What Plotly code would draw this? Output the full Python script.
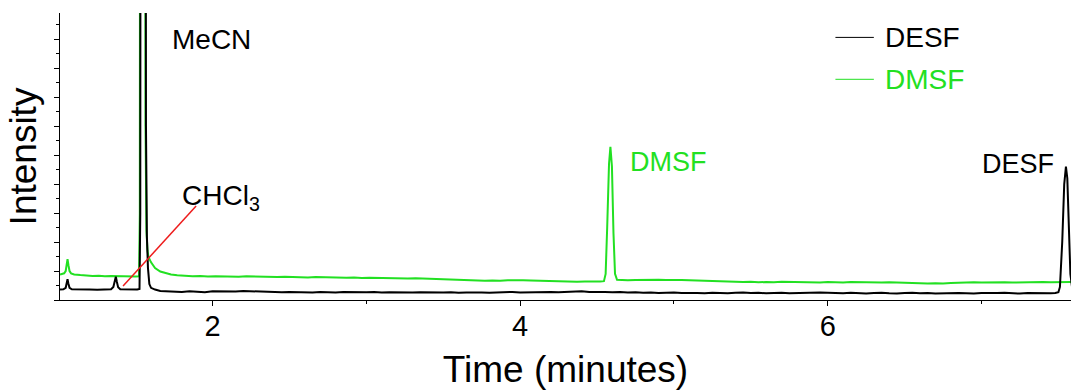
import plotly.graph_objects as go

# Retention time (minutes) and detector signal (arbitrary units) for each run
desf_t = [1.008, 1.03, 1.045, 1.052, 1.057, 1.062, 1.07, 1.085, 1.12, 1.16, 1.20, 1.25, 1.30, 1.34,
          1.355, 1.364, 1.371, 1.378, 1.386, 1.40, 1.44, 1.48, 1.51, 1.525, 1.530, 1.534, 1.548,
          1.561, 1.567, 1.573, 1.580, 1.589, 1.60, 1.626, 1.66, 1.70, 1.75, 1.80, 1.85, 1.90, 1.95,
          2.00, 2.05, 2.10, 2.15, 2.20, 2.25, 2.30, 2.35, 2.40, 2.45, 2.50, 2.55, 2.60, 2.65, 2.70,
          2.75, 2.80, 2.85, 2.90, 2.95, 3.00, 3.05, 3.10, 3.15, 3.20, 3.25, 3.30, 3.35, 3.40, 3.45,
          3.50, 3.55, 3.60, 3.65, 3.70, 3.75, 3.80, 3.85, 3.90, 3.95, 4.00, 4.05, 4.10, 4.15, 4.20,
          4.25, 4.30, 4.35, 4.40, 4.45, 4.50, 4.55, 4.60, 4.65, 4.70, 4.75, 4.80, 4.85, 4.90, 4.95,
          5.00, 5.05, 5.10, 5.15, 5.20, 5.25, 5.30, 5.35, 5.40, 5.45, 5.50, 5.55, 5.60, 5.65, 5.70,
          5.75, 5.80, 5.85, 5.90, 5.95, 6.00, 6.05, 6.10, 6.15, 6.20, 6.25, 6.30, 6.35, 6.40, 6.45,
          6.50, 6.55, 6.60, 6.65, 6.70, 6.75, 6.80, 6.85, 6.90, 6.95, 7.00, 7.05, 7.10, 7.15, 7.20,
          7.25, 7.30, 7.35, 7.40, 7.45, 7.48, 7.50, 7.51, 7.525, 7.538, 7.549, 7.558, 7.569, 7.578,
          7.59]
desf_y = [0.36, 0.37, 0.42, 0.60, 0.72, 0.58, 0.42, 0.37, 0.36, 0.37, 0.36, 0.35, 0.37, 0.37,
          0.45, 0.65, 0.80, 0.62, 0.44, 0.37, 0.36, 0.35, 0.36, 0.38, 3.0, 40, 80,
          40, 6.0, 2.2, 1.1, 0.55, 0.42, 0.36, 0.31, 0.30, 0.29, 0.28, 0.30, 0.29, 0.27,
          0.30, 0.29, 0.28, 0.29, 0.31, 0.30, 0.29, 0.30, 0.28, 0.27, 0.28, 0.27, 0.25, 0.26, 0.28,
          0.27, 0.26, 0.28, 0.27, 0.26, 0.27, 0.28, 0.26, 0.27, 0.26, 0.25, 0.26, 0.27, 0.26, 0.25,
          0.26, 0.27, 0.25, 0.26, 0.27, 0.26, 0.25, 0.26, 0.27, 0.28, 0.26, 0.27, 0.28, 0.27, 0.28,
          0.27, 0.28, 0.29, 0.30, 0.28, 0.29, 0.28, 0.27, 0.28, 0.26, 0.27, 0.25, 0.26, 0.24, 0.25,
          0.26, 0.24, 0.25, 0.24, 0.23, 0.25, 0.24, 0.23, 0.25, 0.26, 0.24, 0.25, 0.23, 0.24, 0.25,
          0.23, 0.24, 0.25, 0.24, 0.26, 0.25, 0.24, 0.23, 0.25, 0.24, 0.22, 0.24, 0.25, 0.23, 0.22,
          0.24, 0.25, 0.23, 0.24, 0.22, 0.23, 0.25, 0.24, 0.23, 0.22, 0.24, 0.23, 0.24, 0.25, 0.23,
          0.22, 0.24, 0.23, 0.24, 0.23, 0.24, 0.27, 0.45, 2.0, 4.0, 4.6, 4.2, 2.2, 0.9,
          0.4]

dmsf_t = [1.008, 1.02, 1.035, 1.045, 1.052, 1.057, 1.063, 1.07, 1.08, 1.10, 1.14, 1.18, 1.22, 1.26,
          1.30, 1.34, 1.38, 1.42, 1.46, 1.50, 1.522, 1.527, 1.531, 1.545, 1.558, 1.564, 1.570,
          1.577, 1.583, 1.60, 1.626, 1.66, 1.69, 1.73, 1.77, 1.82, 1.87, 1.92, 1.97, 2.02, 2.07,
          2.12, 2.17, 2.22, 2.27, 2.32, 2.37, 2.42, 2.47, 2.52, 2.57, 2.62, 2.67, 2.72, 2.77, 2.82,
          2.87, 2.92, 2.97, 3.02, 3.07, 3.12, 3.17, 3.22, 3.27, 3.32, 3.37, 3.42, 3.47, 3.52, 3.57,
          3.62, 3.67, 3.72, 3.77, 3.82, 3.87, 3.92, 3.97, 4.02, 4.07, 4.12, 4.17, 4.22, 4.27, 4.32,
          4.37, 4.42, 4.47, 4.52, 4.545, 4.556, 4.566, 4.578, 4.587, 4.597, 4.607, 4.617, 4.63,
          4.66, 4.70, 4.75, 4.80, 4.85, 4.90, 4.95, 5.00, 5.05, 5.10, 5.15, 5.20, 5.25, 5.30, 5.35,
          5.40, 5.45, 5.50, 5.55, 5.60, 5.65, 5.70, 5.75, 5.80, 5.85, 5.90, 5.95, 6.00, 6.05, 6.10,
          6.15, 6.20, 6.25, 6.30, 6.35, 6.40, 6.45, 6.50, 6.55, 6.60, 6.65, 6.70, 6.75, 6.80, 6.85,
          6.90, 6.95, 7.00, 7.05, 7.10, 7.15, 7.20, 7.25, 7.30, 7.35, 7.40, 7.45, 7.50, 7.55, 7.59]
dmsf_y = [0.88, 0.90, 0.92, 1.0, 1.25, 1.41, 1.2, 1.0, 0.92, 0.88, 0.86, 0.84, 0.83, 0.84,
          0.82, 0.83, 0.82, 0.81, 0.82, 0.81, 0.82, 3.0, 40, 80, 40, 6.0, 2.4,
          1.7, 1.49, 1.3, 1.1, 0.98, 0.93, 0.88, 0.85, 0.83, 0.82, 0.83, 0.81, 0.82, 0.81,
          0.82, 0.80, 0.82, 0.81, 0.80, 0.81, 0.79, 0.80, 0.79, 0.80, 0.78, 0.79, 0.78, 0.77, 0.78,
          0.77, 0.78, 0.76, 0.77, 0.76, 0.75, 0.76, 0.75, 0.74, 0.75, 0.74, 0.73, 0.72, 0.70, 0.69,
          0.68, 0.67, 0.67, 0.66, 0.67, 0.66, 0.68, 0.69, 0.68, 0.67, 0.66, 0.65, 0.64, 0.65, 0.64,
          0.63, 0.64, 0.63, 0.64, 0.65, 0.9, 2.5, 4.7, 5.28, 4.6, 2.3, 0.9, 0.70,
          0.69, 0.68, 0.69, 0.70, 0.71, 0.70, 0.69, 0.70, 0.69, 0.68, 0.67, 0.66, 0.65, 0.64, 0.63,
          0.64, 0.62, 0.63, 0.61, 0.62, 0.61, 0.63, 0.62, 0.61, 0.62, 0.61, 0.60, 0.62, 0.61, 0.60,
          0.62, 0.61, 0.60, 0.59, 0.60, 0.61, 0.60, 0.59, 0.57, 0.58, 0.57, 0.58, 0.57, 0.59, 0.60,
          0.62, 0.61, 0.60, 0.61, 0.62, 0.61, 0.60, 0.61, 0.60, 0.61, 0.62, 0.61, 0.62, 0.61, 0.62]

# Leader line pointing from the CHCl3 label to its small peak
chcl3_line_t = [1.418, 1.893]
chcl3_line_y = [0.48, 3.24]

series_names = ["DESF", "DMSF"]
peak_labels = ["MeCN", "CHCl<sub>3</sub>", "DMSF", "DESF"]
x_ticks = [2, 4, 6]

BLACK = "#000000"
GREEN = "#22e022"
RED = "#ee1c1c"
FONT = "Arial, Liberation Sans, sans-serif"

fig = go.Figure()

# DMSF trace drawn first so the DESF trace sits on top where they overlap
fig.add_trace(go.Scatter(x=dmsf_t, y=dmsf_y, mode="lines", name=series_names[1],
                         line=dict(color=GREEN, width=2), showlegend=False, hoverinfo="skip"))
fig.add_trace(go.Scatter(x=desf_t, y=desf_y, mode="lines", name=series_names[0],
                         line=dict(color=BLACK, width=2), showlegend=False, hoverinfo="skip"))
fig.add_trace(go.Scatter(x=chcl3_line_t, y=chcl3_line_y, mode="lines",
                         line=dict(color=RED, width=1.5), showlegend=False, hoverinfo="skip"))

# Key in the upper right: short thin line sample followed by the coloured series name
key_colors = [BLACK, GREEN]
key_rows_y = [0.915, 0.769]
for name, color, ky in zip(series_names, key_colors, key_rows_y):
    fig.add_shape(type="line", xref="paper", yref="paper", x0=0.767, x1=0.805, y0=ky, y1=ky,
                  line=dict(color=color, width=1))
    fig.add_annotation(xref="paper", yref="paper", x=0.814, y=ky, text=name, showarrow=False,
                       xanchor="left", yanchor="middle",
                       font=dict(family=FONT, size=28, color=color))

# Peak labels
ann_font = dict(family=FONT, size=28)
fig.add_annotation(x=1.99, y=9.0, text=peak_labels[0], showarrow=False,
                   font=dict(**ann_font, color=BLACK), xanchor="center", yanchor="middle")
fig.add_annotation(x=1.789, y=3.55, text=peak_labels[1], showarrow=False,
                   font=dict(**ann_font, color=BLACK), xanchor="left", yanchor="middle")
fig.add_annotation(x=4.70, y=4.76, text=peak_labels[2], showarrow=False,
                   font=dict(family=FONT, size=27, color=GREEN), xanchor="left", yanchor="middle")
fig.add_annotation(x=6.99, y=4.69, text=peak_labels[3], showarrow=False,
                   font=dict(family=FONT, size=27, color=BLACK), xanchor="left", yanchor="middle")

fig.update_layout(
    width=1071, height=390,
    margin=dict(l=60, r=0, t=13, b=90),
    paper_bgcolor="white", plot_bgcolor="white",
    font=dict(family=FONT, color=BLACK),
    showlegend=False,
    xaxis=dict(range=[1.008, 7.582], tickvals=x_ticks, ticktext=[str(v) for v in x_ticks],
               ticks="outside", ticklen=5, tickwidth=1, tickcolor=BLACK, ticklabelstandoff=-5,
               minor=dict(tickvals=[3, 5, 7], ticks="outside", ticklen=3, tickwidth=1, tickcolor=BLACK),
               showline=True, linecolor=BLACK, linewidth=1, showgrid=False, zeroline=False,
               tickfont=dict(family=FONT, size=29, color=BLACK),
               title=dict(text="Time (minutes)", font=dict(family=FONT, size=37, color=BLACK),
                          standoff=20)),
    yaxis=dict(range=[0, 9.9], dtick=1, tick0=0, ticks="outside", ticklen=5, tickwidth=1,
               tickcolor=BLACK, showticklabels=False,
               minor=dict(dtick=0.5, ticks="outside", ticklen=3, tickwidth=1, tickcolor=BLACK),
               showline=True, linecolor=BLACK, linewidth=1, showgrid=False, zeroline=False,
               title=dict(text="Intensity", font=dict(family=FONT, size=37, color=BLACK),
                          standoff=6)),
)

fig.write_html("out.html")
